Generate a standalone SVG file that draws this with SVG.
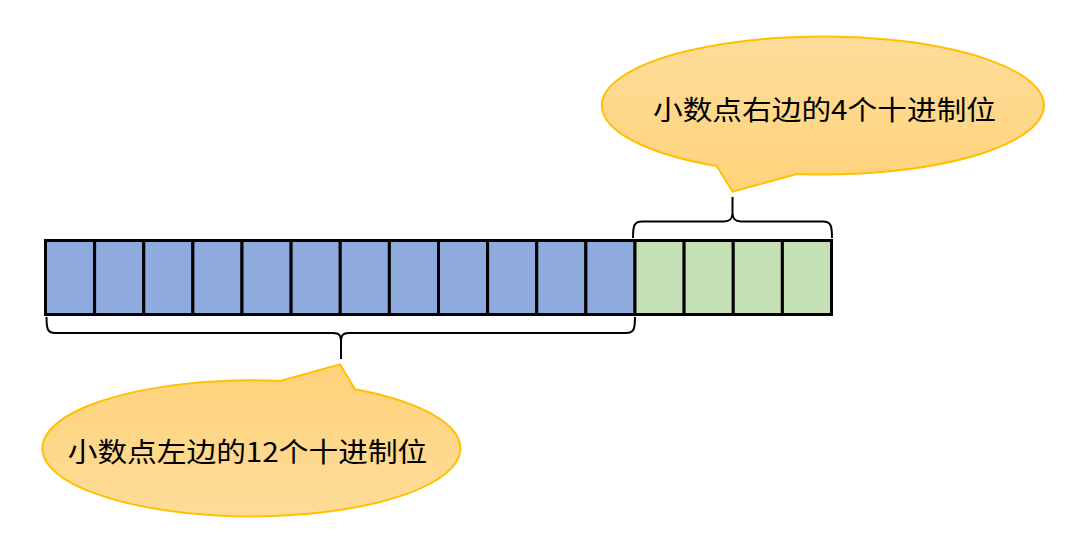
<svg xmlns="http://www.w3.org/2000/svg" width="1080" height="557" viewBox="0 0 1080 557">
<defs>
<linearGradient id="gTop" x1="0" y1="0" x2="0" y2="1">
<stop offset="0" stop-color="#fedd9a"/>
<stop offset="1" stop-color="#fed37a"/>
</linearGradient>
<linearGradient id="gBot" x1="0" y1="0" x2="0" y2="1">
<stop offset="0" stop-color="#fdd27b"/>
<stop offset="1" stop-color="#fedc98"/>
</linearGradient>
<style>
.blue{fill:#8faadc;stroke:#000;stroke-width:3}
.green{fill:#c5e0b4;stroke:#000;stroke-width:3}
.brace{fill:none;stroke:#000;stroke-width:2}
.callout{stroke:#ffc000;stroke-width:2}
.lbl{font-family:"Noto Sans CJK SC","Noto Sans",sans-serif;font-size:27px;fill:#000;text-anchor:middle}
</style>
</defs>
<rect width="1080" height="557" fill="#fff"/>
<g id="cells">
<rect class="blue" x="45.5" y="240.5" width="49.125" height="74"/>
<rect class="blue" x="94.625" y="240.5" width="49.125" height="74"/>
<rect class="blue" x="143.75" y="240.5" width="49.125" height="74"/>
<rect class="blue" x="192.875" y="240.5" width="49.125" height="74"/>
<rect class="blue" x="242" y="240.5" width="49.125" height="74"/>
<rect class="blue" x="291.125" y="240.5" width="49.125" height="74"/>
<rect class="blue" x="340.25" y="240.5" width="49.125" height="74"/>
<rect class="blue" x="389.375" y="240.5" width="49.125" height="74"/>
<rect class="blue" x="438.5" y="240.5" width="49.125" height="74"/>
<rect class="blue" x="487.625" y="240.5" width="49.125" height="74"/>
<rect class="blue" x="536.75" y="240.5" width="49.125" height="74"/>
<rect class="blue" x="585.875" y="240.5" width="49.125" height="74"/>
<rect class="green" x="635" y="240.5" width="49.125" height="74"/>
<rect class="green" x="684.125" y="240.5" width="49.125" height="74"/>
<rect class="green" x="733.25" y="240.5" width="49.125" height="74"/>
<rect class="green" x="782.375" y="240.5" width="49.125" height="74"/>
</g>
<g id="connectors">
<path class="brace" d="M633,238 C633,226 634,221.5 642,221.5 L724,221.5 C730,221.5 732.5,219 732.5,212 L732.5,197 M732.5,212 C732.5,219 735,221.5 741,221.5 L823,221.5 C831,221.5 832,226 832,238"/>
<path class="brace" d="M46.5,317 C46.5,329 47.5,333 55,333 L333,333 C339,333 341,335 341,342 L341,359 M341,342 C341,335 343,333 349,333 L626,333 C634,333 635,329 635,317"/>
</g>
<g id="callout-right">
<path class="callout" fill="url(#gTop)" d="M716.7,166 L732.7,191.7 L796.7,174 A221,69 0 1 0 716.7,166 Z"/>
<text class="lbl" transform="translate(824.5,120) scale(1.1,1)">小数点右边的4个十进制位</text>
</g>
<g id="callout-left">
<path class="callout" fill="url(#gBot)" d="M280,381 L340,364.3 L355,389.3 A209,68 0 1 1 280,381 Z"/>
<text class="lbl" transform="translate(247.5,462) scale(1.1,1)">小数点左边的12个十进制位</text>
</g>
</svg>
